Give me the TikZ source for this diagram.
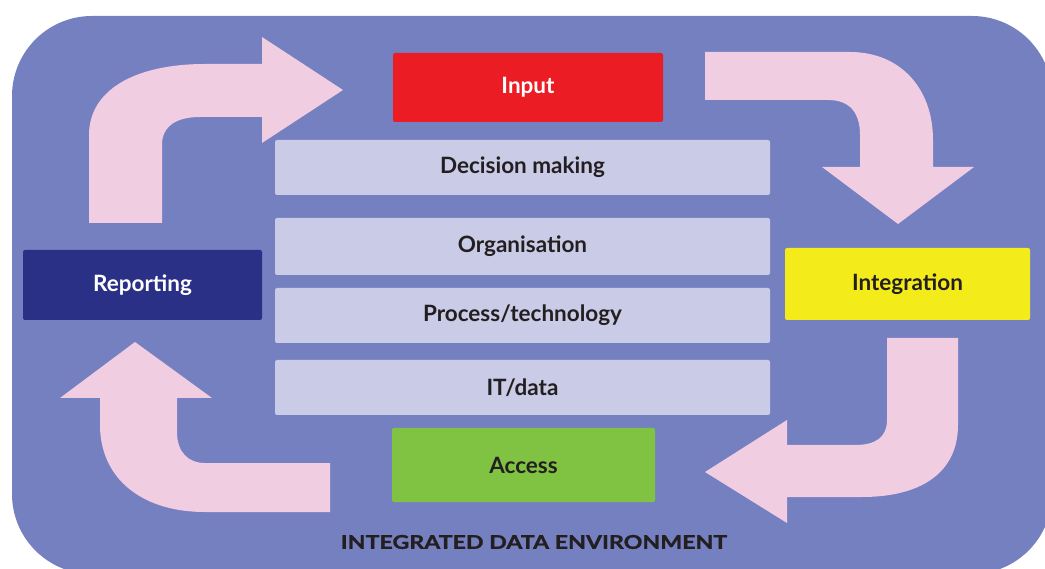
\documentclass[tikz,border=0pt]{standalone}
\usepackage{fontspec}
\setmainfont{Lato}
\newfontfamily\captionfont[BoldFeatures={FakeBold=1.2}]{Lato}
\begin{document}
\begin{tikzpicture}[x=1pt,y=-1pt,
  panel/.style={fill=panelblue},
  flow/.style={fill=arrowpink},
  box/.style={rounded corners=2pt, inner sep=0pt, font=\bfseries\fontsize{22.5}{26}\selectfont},
  layer/.style={box, fill=layerlilac, text=labeldark},
  caption/.style={font=\captionfont\bfseries\fontsize{19}{22}\selectfont, text=labeldark}]
\definecolor{panelblue}{HTML}{7580C1}
\definecolor{arrowpink}{HTML}{F1CDE2}
\definecolor{layerlilac}{HTML}{C9CBE7}
\definecolor{labeldark}{HTML}{231F20}
\definecolor{inputred}{HTML}{EC1C24}
\definecolor{integyellow}{HTML}{F4EC1A}
\definecolor{reportnavy}{HTML}{2B3087}
\definecolor{accessgreen}{HTML}{80C342}

\useasboundingbox (0,0) rectangle (1045,569);
\begin{scope}
  \clip (0,0) rectangle (1045,569);
  \fill[white] (0,0) rectangle (1045,569);
  % rounded panel behind everything
  \fill[panel, rounded corners=80pt] (12,16) rectangle (1052,574);
\end{scope}

% curved arrows circulating round the panel
% upper left: from Reporting up and over towards Input
\fill[flow] (89,223) -- (89,135) .. controls (89,90) and (135,64) .. (205,64)
  -- (262,64) -- (262,37) -- (343,90) -- (262,143) -- (262,117) -- (200,117)
  .. controls (178,117) and (162,125) .. (162,145) -- (162,223) -- cycle;
% upper right: from Input round and down to Integration
\fill[flow] (705,52) -- (850,52) .. controls (900,52) and (933,88) .. (933,140)
  -- (933,167) -- (974,167) -- (898,224) -- (822,167) -- (860,167) -- (860,135)
  .. controls (860,113) and (850,100) .. (828,100) -- (705,100) -- cycle;
% lower right: from Integration down and round to Access
\fill[flow] (887,338) -- (958,338) -- (958,425) .. controls (958,472) and (922,497) .. (862,497)
  -- (787,497) -- (787,523) -- (705,472) -- (787,420) -- (787,445) -- (855,445)
  .. controls (876,445) and (887,437) .. (887,420) -- cycle;
% lower left: from Access back up to Reporting
\fill[flow] (330,463) -- (205,463) .. controls (188,463) and (177,452) .. (177,432)
  -- (177,398) -- (212,398) -- (135,342) -- (60,398) -- (100,398) -- (100,425)
  .. controls (100,477) and (140,512) .. (205,512) -- (330,512) -- cycle;

% stage boxes
\node[box, fill=inputred, text=white, minimum width=270pt, minimum height=69pt]
  (input) at (528,87.5) {Input};
\node[box, fill=integyellow, text=labeldark, minimum width=245pt, minimum height=72pt]
  (integ) at (907.5,284) {Integration};
\node[box, fill=accessgreen, text=labeldark, minimum width=263pt, minimum height=74pt]
  (access) at (523.5,465) {Access};
\node[box, fill=reportnavy, text=white, minimum width=239pt, minimum height=70pt]
  (report) at (142.5,285) {Reporting};

% central layers
\node[layer, minimum width=495pt, minimum height=55pt] (decide) at (522.5,167.5) {Decision making};
\node[layer, minimum width=495pt, minimum height=57pt] (org) at (522.5,246.5) {Organisation};
\node[layer, minimum width=495pt, minimum height=55pt] (proc) at (522.5,315.5) {Process/technology};
\node[layer, minimum width=495pt, minimum height=55pt] (itdata) at (522.5,387.5) {IT/data};

% panel caption, stretched sideways
\node[caption] (title) at (534,542) {\scalebox{1.22}[1]{INTEGRATED DATA ENVIRONMENT}};
\end{tikzpicture}
\end{document}
